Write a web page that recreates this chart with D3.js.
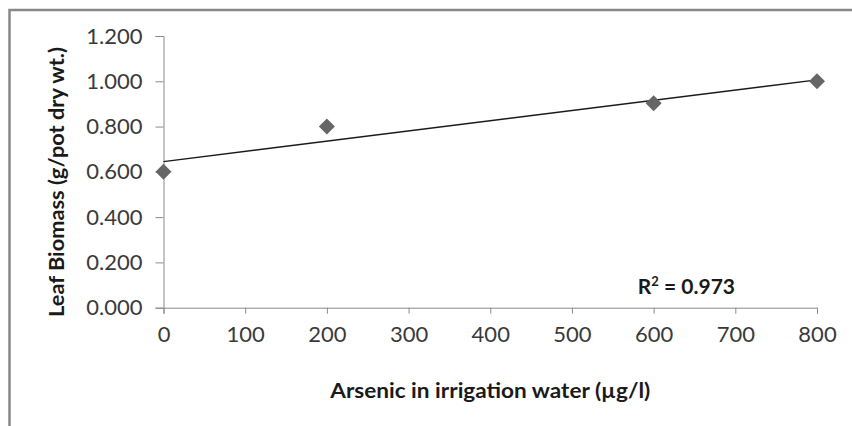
<!DOCTYPE html>
<html>
<head>
<meta charset="utf-8">
<script src="https://cdn.jsdelivr.net/npm/d3@7/dist/d3.min.js"></script>
<style>
  html, body { margin: 0; padding: 0; background: #fff; }
  svg { display: block; font-family: Lato, "Open Sans", sans-serif; }
</style>
</head>
<body>
<svg id="chart" width="852" height="426"></svg>
<script>
// Arsenic dose in irrigation water (µg/l) and leaf biomass (g/pot dry wt.)
const arsenicDose = [0, 200, 600, 800];
const leafBiomass = [0.600, 0.800, 0.903, 1.000];
const xTicks = [0, 100, 200, 300, 400, 500, 600, 700, 800];
const yTicks = [0, 0.2, 0.4, 0.6, 0.8, 1.0, 1.2];
const rSquaredLabel = "0.973";

const svg = d3.select("#chart");

// Outer chart-area frame
svg.append("rect")
  .attr("x", 9.5).attr("y", 10)
  .attr("width", 900).attr("height", 500)
  .attr("fill", "none")
  .attr("stroke", "#888888")
  .attr("stroke-width", 2.5);

const x = d3.scaleLinear().domain([0, 800]).range([163.5, 817]);
const y = d3.scaleLinear().domain([0, 1.2]).range([307.7, 36]);

const axisColor = "#8a8a8a";
const tickFont = 22;

// Y axis
const yAxis = svg.append("g")
  .attr("transform", `translate(${x(0)},0)`)
  .call(d3.axisLeft(y).tickValues(yTicks).tickSize(8).tickPadding(13)
    .tickFormat(d3.format(".3f")));
yAxis.select(".domain").attr("stroke", axisColor);
yAxis.selectAll(".tick line").attr("stroke", axisColor);
yAxis.selectAll(".tick text")
  .attr("fill", "#3a3a3a").attr("font-size", tickFont)
  .attr("font-family", "Lato, sans-serif");

// X axis
const xAxis = svg.append("g")
  .attr("transform", `translate(0,${y(0)})`)
  .call(d3.axisBottom(x).tickValues(xTicks).tickSize(6).tickPadding(13)
    .tickFormat(d3.format("d")));
xAxis.select(".domain").attr("stroke", axisColor);
xAxis.selectAll(".tick line").attr("stroke", axisColor);
xAxis.selectAll(".tick text")
  .attr("fill", "#3a3a3a").attr("font-size", tickFont)
  .attr("font-family", "Lato, sans-serif");

// Least-squares linear trend line through the points
const n = arsenicDose.length;
const mx = d3.mean(arsenicDose), my = d3.mean(leafBiomass);
let sxy = 0, sxx = 0;
for (let i = 0; i < n; i++) {
  sxy += (arsenicDose[i] - mx) * (leafBiomass[i] - my);
  sxx += (arsenicDose[i] - mx) ** 2;
}
const slope = sxy / sxx;
const intercept = my - slope * mx;
const trendX = [0, 800];
svg.append("path")
  .datum(trendX.map(d => [d, intercept + slope * d]))
  .attr("d", d3.line().x(d => x(d[0])).y(d => y(d[1])))
  .attr("fill", "none")
  .attr("stroke", "#1a1a1a")
  .attr("stroke-width", 1.4);

// Diamond markers
const r = 8;
const diamond = `M0,${-r}L${r},0L0,${r}L${-r},0Z`;
svg.append("g").selectAll("path.pt")
  .data(arsenicDose.map((d, i) => [d, leafBiomass[i]]))
  .join("path")
  .attr("class", "pt")
  .attr("transform", d => `translate(${x(d[0])},${y(d[1])})`)
  .attr("d", diamond)
  .attr("fill", "#666666");

// R² annotation
const rt = svg.append("text")
  .attr("x", 735).attr("y", 294)
  .attr("text-anchor", "end")
  .attr("font-size", 21)
  .attr("font-weight", "bold")
  .attr("fill", "#1a1a1a");
rt.append("tspan").text("R");
rt.append("tspan").attr("font-size", 13).attr("dy", -8).text("2");
rt.append("tspan").attr("dy", 8).text(" = " + rSquaredLabel);

// Axis titles
svg.append("text")
  .attr("x", (x(0) + x(800)) / 2).attr("y", 398)
  .attr("text-anchor", "middle")
  .attr("font-size", 21)
  .attr("font-weight", "bold")
  .attr("fill", "#1a1a1a")
  .attr("textLength", 320)
  .attr("lengthAdjust", "spacingAndGlyphs")
  .text("Arsenic in irrigation water (µg/l)");

svg.append("text")
  .attr("transform", "translate(64,182) rotate(-90)")
  .attr("text-anchor", "middle")
  .attr("font-size", 20)
  .attr("font-weight", "bold")
  .attr("fill", "#1a1a1a")
  .attr("textLength", 270)
  .attr("lengthAdjust", "spacingAndGlyphs")
  .text("Leaf Biomass (g/pot dry wt.)");
</script>
</body>
</html>
